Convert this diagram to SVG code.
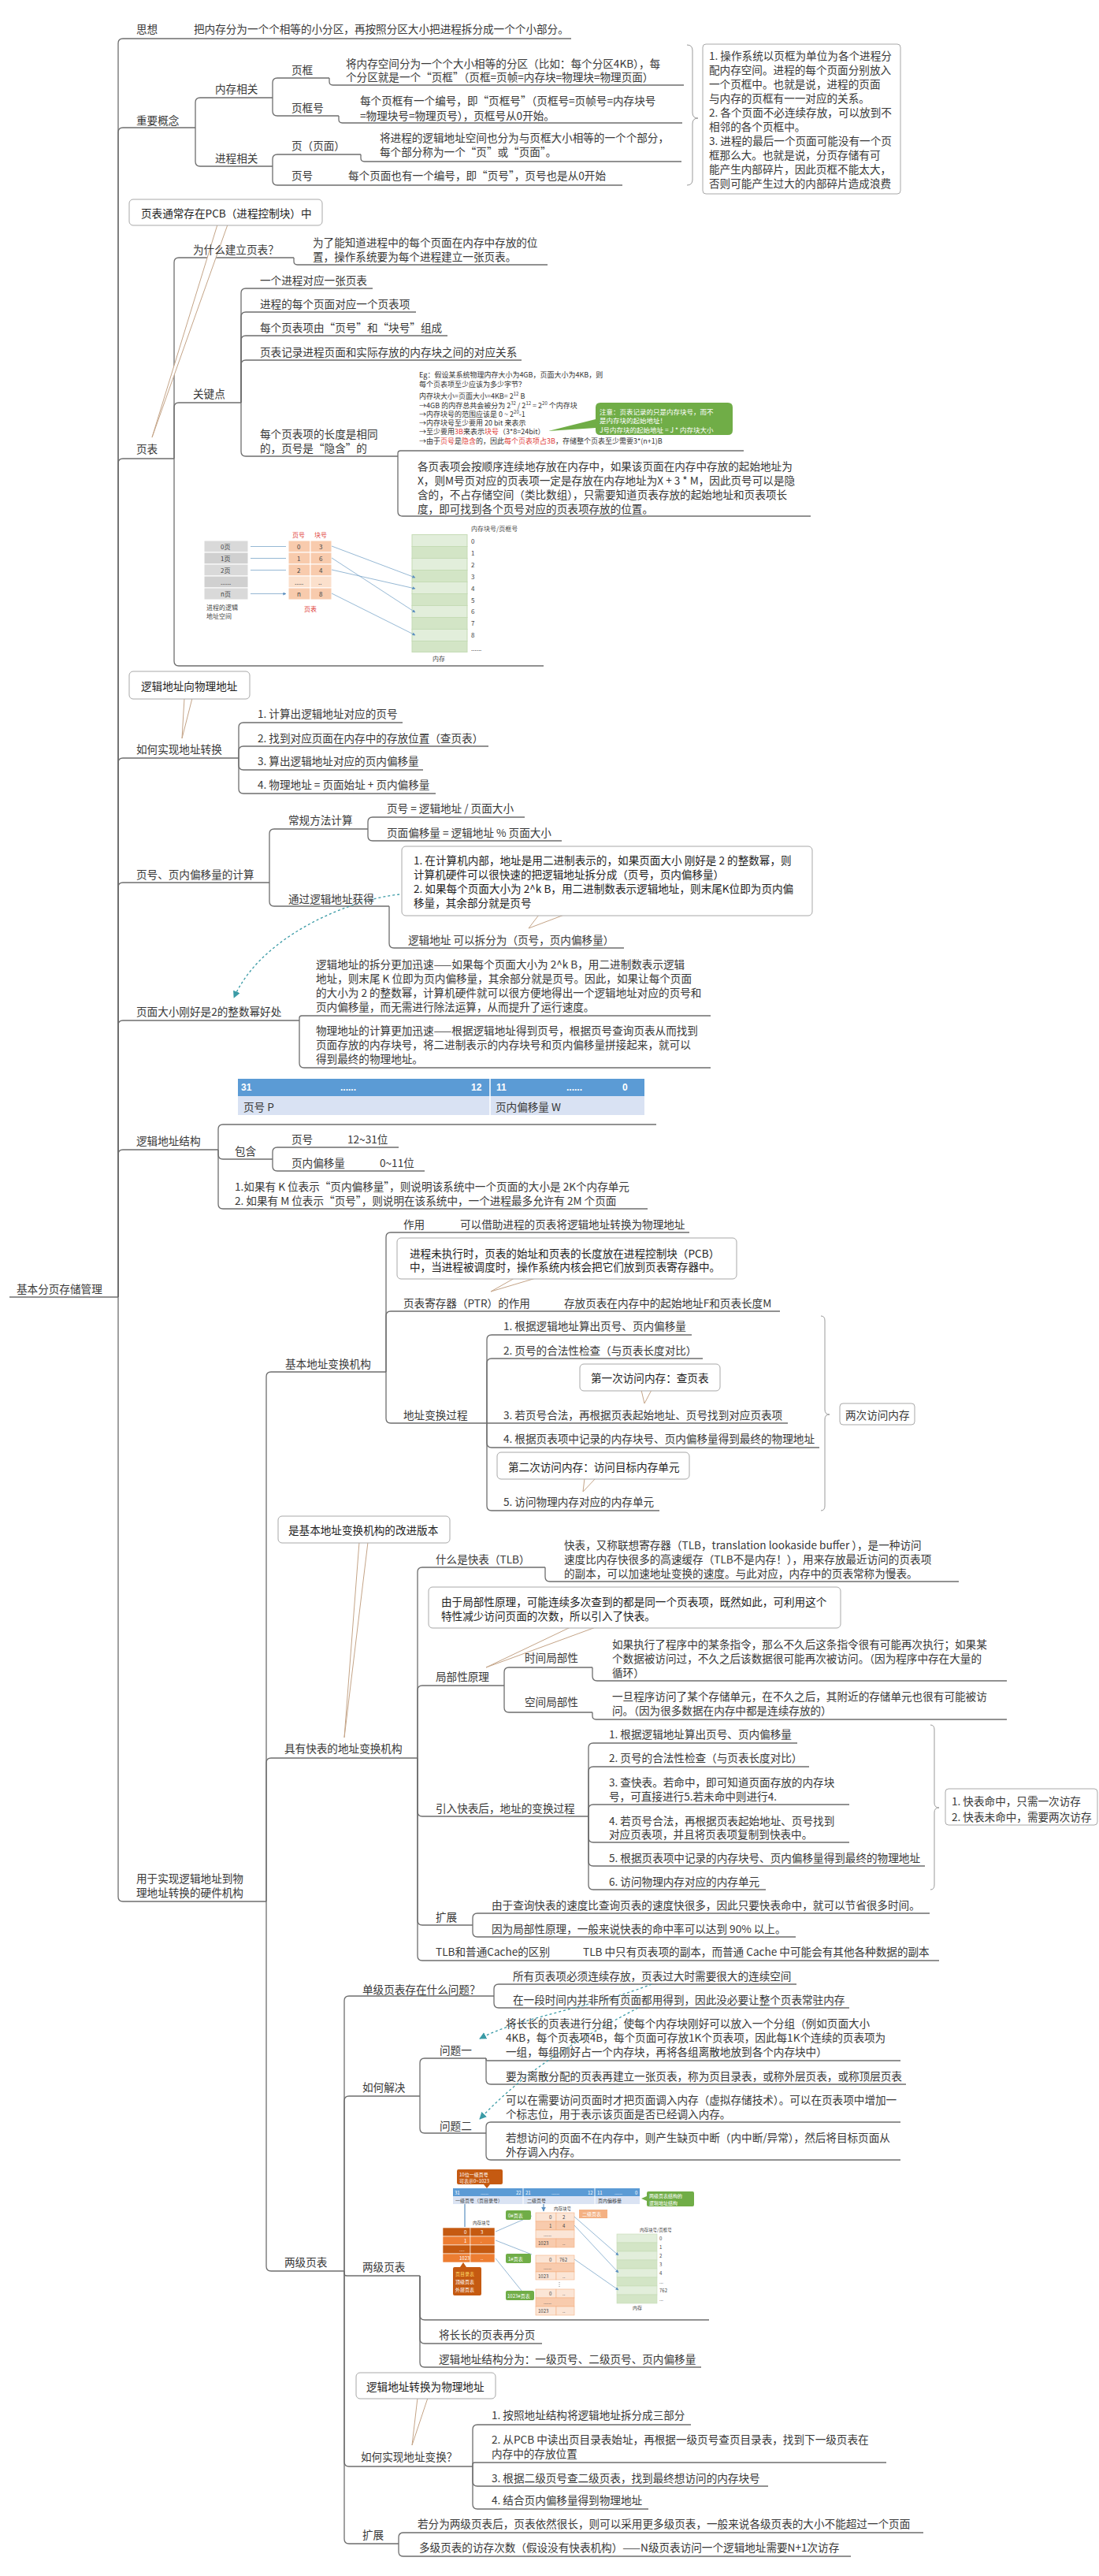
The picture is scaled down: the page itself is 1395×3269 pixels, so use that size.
<svg xmlns="http://www.w3.org/2000/svg" width="1395" height="3269" viewBox="0 0 1395 3269">
<defs>
<style>
.t{font-family:"Noto Sans CJK SC","Liberation Sans",sans-serif;font-size:13.6px;fill:#383838;dominant-baseline:central}
.tb{font-family:"Noto Sans CJK SC","Liberation Sans",sans-serif;font-size:13.6px;fill:#1e1e1e;dominant-baseline:central}
.s{font-family:"Noto Sans CJK SC","Liberation Sans",sans-serif;font-size:8px;fill:#444;dominant-baseline:central}
.e{font-family:"Noto Sans CJK SC","Liberation Serif",serif;font-size:9px;fill:#333;dominant-baseline:central}
.w{font-family:"Noto Sans CJK SC","Liberation Sans",sans-serif;font-size:6px;fill:#fff;dominant-baseline:central}
.d{font-family:"Noto Sans CJK SC","Liberation Sans",sans-serif;font-size:6px;fill:#444;dominant-baseline:central}
.r{fill:#e0413b}
.l{fill:none;stroke:#6e6e6e;stroke-width:1.3}
.cb{fill:#fff;stroke:#a8a8a8;stroke-width:1}
.ct{fill:#fff;stroke:#c4a487;stroke-width:1}
.dash{fill:none;stroke:#3b9ba6;stroke-width:1.3;stroke-dasharray:3 3}
.br{fill:none;stroke:#9a9a9a;stroke-width:1}
.ar{fill:none;stroke:#7ba6c9;stroke-width:0.8}
</style>
<marker id="ah" viewBox="0 0 10 10" refX="9" refY="5" markerWidth="7" markerHeight="7" orient="auto"><path d="M0,0 L10,5 L0,10 z" fill="#3b9ba6"/></marker>
<marker id="sa" viewBox="0 0 10 10" refX="9" refY="5" markerWidth="5" markerHeight="5" orient="auto"><path d="M0,0 L10,5 L0,10 z" fill="#5b8fc0"/></marker>
</defs>
<rect width="1395" height="3269" fill="#fff"/>

<g id="connectors">
<path class="l" d="M12,1646H150"/>
<path class="l" d="M150,1646V55Q150,49 156,49H725"/>
<path class="l" d="M150,1646V168Q150,162 156,162H248"/>
<path class="l" d="M150,1646V588Q150,582 156,582H221"/>
<path class="l" d="M150,1646V968Q150,962 156,962H303"/>
<path class="l" d="M150,1646V1126Q150,1120 156,1120H342"/>
<path class="l" d="M150,1646V1301Q150,1295 156,1295H380"/>
<path class="l" d="M150,1646V1465Q150,1459 156,1459H277"/>
<path class="l" d="M150,1646V2407Q150,2413 156,2413H338"/>
<path class="l" d="M248,162V130Q248,124 254,124H346"/>
<path class="l" d="M248,162V205Q248,211 254,211H346"/>
<path class="l" d="M346,124V105Q346,99 352,99H418"/>
<path class="l" d="M346,124V141Q346,147 352,147H430"/>
<path class="l" d="M418,99V103.5Q418,108 422.5,108H868"/>
<path class="l" d="M430,147V151.5Q430,156 434.5,156H866"/>
<path class="l" d="M346,211V202Q346,196 352,196H458"/>
<path class="l" d="M346,211V229Q346,235 352,235H790"/>
<path class="l" d="M458,196V200.5Q458,205 462.5,205H865"/>
<path class="br" d="M872,57Q879,57 879,64V143Q879,150 886,150Q879,150 879,157V228Q879,235 872,235"/>
<path class="l" d="M221,582V333Q221,327 227,327H373"/>
<path class="l" d="M221,582V517Q221,511 227,511H306"/>
<path class="l" d="M221,582V839Q221,845 227,845H690"/>
<path class="l" d="M373,327V331.5Q373,336 377.5,336H695"/>
<path class="l" d="M306,511V372Q306,366 312,366H473"/>
<path class="l" d="M306,511V402Q306,396 312,396H528"/>
<path class="l" d="M306,511V432Q306,426 312,426H568"/>
<path class="l" d="M306,511V463Q306,457 312,457H662"/>
<path class="l" d="M306,511V573Q306,579 312,579H505"/>
<path class="l" d="M505,579V575.5Q505,572 508.5,572H944"/>
<path class="l" d="M505,579V649Q505,655 511,655H1029"/>
<path class="l" d="M303,962V923Q303,917 309,917H511"/>
<path class="l" d="M303,962V953Q303,947 309,947H620"/>
<path class="l" d="M303,962V971Q303,977 309,977H537"/>
<path class="l" d="M303,962V1001Q303,1007 309,1007H553"/>
<path class="l" d="M342,1120V1058Q342,1052 348,1052H467"/>
<path class="l" d="M342,1120V1144Q342,1150 348,1150H494"/>
<path class="l" d="M467,1052V1043Q467,1037 473,1037H666"/>
<path class="l" d="M467,1052V1061Q467,1067 473,1067H713"/>
<path class="l" d="M494,1150V1197Q494,1203 500,1203H792"/>
<path class="l" d="M380,1295V1292Q380,1289 383,1289H902"/>
<path class="l" d="M380,1295V1349Q380,1355 386,1355H902"/>
<path class="l" d="M277,1459V1433Q277,1427 283,1427H833"/>
<path class="l" d="M277,1459V1465Q277,1471 283,1471H346"/>
<path class="l" d="M277,1459V1528Q277,1534 283,1534H822"/>
<path class="l" d="M346,1471V1462Q346,1456 352,1456H506"/>
<path class="l" d="M346,1471V1480Q346,1486 352,1486H539"/>
<path class="l" d="M338,2413V1747Q338,1741 344,1741H490"/>
<path class="l" d="M338,2413V2237Q338,2231 344,2231H530"/>
<path class="l" d="M338,2413V2876Q338,2882 344,2882H437"/>
<path class="l" d="M490,1741V1570Q490,1564 496,1564H875"/>
<path class="l" d="M490,1741V1670Q490,1664 496,1664H990"/>
<path class="l" d="M490,1741V1800Q490,1806 496,1806H618"/>
<path class="l" d="M618,1806V1700Q618,1694 624,1694H878"/>
<path class="l" d="M618,1806V1730Q618,1724 624,1724H892"/>
<path class="l" d="M618,1806H1000"/>
<path class="l" d="M618,1806V1831Q618,1837 624,1837H1040"/>
<path class="l" d="M618,1806V1911Q618,1917 624,1917H837"/>
<path class="br" d="M1042,1670Q1047,1670 1047,1676V1789Q1047,1795 1053,1795Q1047,1795 1047,1801V1911Q1047,1917 1042,1917"/>
<path class="l" d="M530,2231V1995Q530,1989 536,1989H692"/>
<path class="l" d="M530,2231V2145Q530,2139 536,2139H640"/>
<path class="l" d="M530,2231V2299Q530,2305 536,2305H747"/>
<path class="l" d="M530,2231V2437Q530,2443 536,2443H600"/>
<path class="l" d="M530,2231V2482Q530,2488 536,2488H1192"/>
<path class="l" d="M692,1989V2001Q692,2007 698,2007H1217"/>
<path class="l" d="M640,2139V2122Q640,2116 646,2116H752"/>
<path class="l" d="M640,2139V2167Q640,2173 646,2173H752"/>
<path class="l" d="M752,2116V2127Q752,2133 758,2133H1278"/>
<path class="l" d="M752,2173V2177.5Q752,2182 756.5,2182H1278"/>
<path class="l" d="M747,2305V2218Q747,2212 753,2212H1012"/>
<path class="l" d="M747,2305V2248Q747,2242 753,2242H1027"/>
<path class="l" d="M747,2305V2296Q747,2290 753,2290H1078"/>
<path class="l" d="M747,2305V2332Q747,2338 753,2338H1078"/>
<path class="l" d="M747,2305V2362Q747,2368 753,2368H1174"/>
<path class="l" d="M747,2305V2392Q747,2398 753,2398H972"/>
<path class="br" d="M1181,2189Q1186,2189 1186,2195V2288Q1186,2294 1192,2294Q1186,2294 1186,2300V2392Q1186,2398 1181,2398"/>
<path class="l" d="M600,2443V2434Q600,2428 606,2428H1180"/>
<path class="l" d="M600,2443V2452Q600,2458 606,2458H1010"/>
<path class="l" d="M437,2882V2539Q437,2533 443,2533H627"/>
<path class="l" d="M437,2882V2666Q437,2660 443,2660H533"/>
<path class="l" d="M437,2882V2885Q437,2888 440,2888H533"/>
<path class="l" d="M437,2882V3124Q437,3130 443,3130H600"/>
<path class="l" d="M437,2882V3222Q437,3228 443,3228H506"/>
<path class="l" d="M627,2533V2524Q627,2518 633,2518H1011"/>
<path class="l" d="M627,2533V2542Q627,2548 633,2548H1078"/>
<path class="l" d="M533,2660V2618Q533,2612 539,2612H617"/>
<path class="l" d="M533,2660V2701Q533,2707 539,2707H617"/>
<path class="l" d="M617,2612V2613.5Q617,2615 618.5,2615H1143"/>
<path class="l" d="M617,2612V2639Q617,2645 623,2645H1150"/>
<path class="l" d="M617,2707V2699Q617,2693 623,2693H1143"/>
<path class="l" d="M617,2707V2735Q617,2741 623,2741H1143"/>
<path class="l" d="M533,2888V2938Q533,2944 539,2944H900"/>
<path class="l" d="M533,2888V2968Q533,2974 539,2974H688"/>
<path class="l" d="M533,2888V2998Q533,3004 539,3004H890"/>
<path class="l" d="M600,3130V3083Q600,3077 606,3077H877"/>
<path class="l" d="M600,3130V3127.5Q600,3125 602.5,3125H1125"/>
<path class="l" d="M600,3130V3149Q600,3155 606,3155H975"/>
<path class="l" d="M600,3130V3178Q600,3184 606,3184H823"/>
<path class="l" d="M506,3228V3220Q506,3214 512,3214H1172"/>
<path class="l" d="M506,3228V3238Q506,3244 512,3244H1080"/>
<path class="dash" marker-end="url(#ah)" d="M507,1135C440,1142 330,1190 297,1266"/>
<path class="dash" marker-end="url(#ah)" d="M827,2518C760,2545 660,2560 609,2587"/>
<path class="dash" marker-end="url(#ah)" d="M810,2548C730,2590 670,2625 609,2689"/>
</g>

<g id="root"><text class="t" x="21" y="1635">基本分页存储管理</text></g>

<g id="n-sixiang">
<text class="t" x="173" y="36">思想</text>
<text class="t" x="246" y="36">把内存分为一个个相等的小分区，再按照分区大小把进程拆分成一个个小部分。</text>
</g>

<g id="n-zhongyao">
<text class="t" x="173" y="152">重要概念</text>
<text class="t" x="273" y="112">内存相关</text>
<text class="t" x="370" y="88">页框</text>
<text class="t" x="439" y="80">将内存空间分为一个个大小相等的分区（比如：每个分区4KB），每</text>
<text class="t" x="439" y="97">个分区就是一个“页框”（页框=页帧=内存块=物理块=物理页面）</text>
<text class="t" x="370" y="136">页框号</text>
<text class="t" x="457" y="127">每个页框有一个编号，即“页框号”（页框号=页帧号=内存块号</text>
<text class="t" x="457" y="146">=物理块号=物理页号），页框号从0开始。</text>
<text class="t" x="273" y="200">进程相关</text>
<text class="t" x="370" y="184">页（页面）</text>
<text class="t" x="482" y="174">将进程的逻辑地址空间也分为与页框大小相等的一个个部分，</text>
<text class="t" x="482" y="192">每个部分称为一个“页”或“页面”。</text>
<text class="t" x="370" y="222">页号</text>
<text class="t" x="442" y="222">每个页面也有一个编号，即“页号”，页号也是从0开始</text>
</g>

<g id="n-summary1">
<rect class="cb" x="892" y="56" width="251" height="190" rx="4"/>
<text class="t" x="900" y="70">1. 操作系统以页框为单位为各个进程分</text>
<text class="t" x="900" y="88">配内存空间。进程的每个页面分别放入</text>
<text class="t" x="900" y="106">一个页框中。也就是说，进程的页面</text>
<text class="t" x="900" y="124">与内存的页框有一一对应的关系。</text>
<text class="t" x="900" y="142">2. 各个页面不必连续存放，可以放到不</text>
<text class="t" x="900" y="160">相邻的各个页框中。</text>
<text class="t" x="900" y="178">3. 进程的最后一个页面可能没有一个页</text>
<text class="t" x="900" y="196">框那么大。也就是说，分页存储有可</text>
<text class="t" x="900" y="214">能产生内部碎片，因此页框不能太大，</text>
<text class="t" x="900" y="232">否则可能产生过大的内部碎片造成浪费</text>
</g>

<g id="n-yebiao">
<path class="ct" d="M276,285L193,555L289,285"/>
<rect class="cb" x="164" y="253" width="245" height="33" rx="5"/>
<text class="tb" x="179" y="270">页表通常存在PCB（进程控制块）中</text>
<text class="t" x="173" y="569">页表</text>
<text class="t" x="245" y="316">为什么建立页表？</text>
<text class="t" x="397" y="307">为了能知道进程中的每个页面在内存中存放的位</text>
<text class="t" x="397" y="325">置，操作系统要为每个进程建立一张页表。</text>
<text class="t" x="245" y="499">关键点</text>
<text class="t" x="330" y="355">一个进程对应一张页表</text>
<text class="t" x="330" y="385">进程的每个页面对应一个页表项</text>
<text class="t" x="330" y="415">每个页表项由“页号”和“块号”组成</text>
<text class="t" x="330" y="446">页表记录进程页面和实际存放的内存块之间的对应关系</text>
<text class="t" x="330" y="550">每个页表项的长度是相同</text>
<text class="t" x="330" y="568">的，页号是“隐含”的</text>
<text class="t" x="530" y="591">各页表项会按顺序连续地存放在内存中，如果该页面在内存中存放的起始地址为</text>
<text class="t" x="530" y="609">X，则M号页对应的页表项一定是存放在内存地址为X + 3 * M，因此页号可以是隐</text>
<text class="t" x="530" y="627">含的，不占存储空间（类比数组），只需要知道页表存放的起始地址和页表项长</text>
<text class="t" x="530" y="645">度，即可找到各个页号对应的页表项存放的位置。</text>
</g>

<g id="img-eg">
<text class="e" x="532" y="475">Eg：假设某系统物理内存大小为4GB，页面大小为4KB，则</text>
<text class="e" x="532" y="487">每个页表项至少应该为多少字节？</text>
<text class="e" x="532" y="502">内存块大小=页面大小=4KB= 2<tspan font-size="6" dy="-3">12</tspan><tspan dy="3"> B</tspan></text>
<text class="e" x="532" y="514">→4GB 的内存总共会被分为 2<tspan font-size="6" dy="-3">32</tspan><tspan dy="3"> / 2</tspan><tspan font-size="6" dy="-3">12</tspan><tspan dy="3"> = 2</tspan><tspan font-size="6" dy="-3">20</tspan><tspan dy="3"> 个内存块</tspan></text>
<text class="e" x="532" y="525">→内存块号的范围应该是 0 ~ 2<tspan font-size="6" dy="-3">20</tspan><tspan dy="3">-1</tspan></text>
<text class="e" x="532" y="536">→内存块号至少要用 20 bit 来表示</text>
<text class="e" x="532" y="547">→至少要用<tspan class="r">3B</tspan>来表示<tspan class="r">块号</tspan>（3*8=24bit）</text>
<text class="e" x="532" y="559">→由于<tspan class="r">页号</tspan>是<tspan class="r">隐含</tspan>的，因此<tspan class="r">每个页表项占3B</tspan>，存储整个页表至少需要3*(n+1)B</text>
<path d="M762,511H924Q930,511 930,517V546Q930,552 924,552H762Q756,552 756,546V543L696,547L756,532V517Q756,511 762,511Z" fill="#70ad47"/>
<text class="e" x="761" y="522" style="fill:#fff;font-size:8.5px">注意：页表记录的只是内存块号，而不</text>
<text class="e" x="761" y="533" style="fill:#fff;font-size:8.5px">是内存块的起始地址！</text>
<text class="e" x="761" y="545" style="fill:#fff;font-size:8.5px">J号内存块的起始地址 = J * 内存块大小</text>
</g>

<g id="img-pagetable">
<g fill="#d9d9d9" stroke="#fff" stroke-width="1">
<rect x="259" y="686" width="56" height="15"/><rect x="259" y="701" width="56" height="15" fill="#d0d0d0"/><rect x="259" y="716" width="56" height="15"/><rect x="259" y="731" width="56" height="15" fill="#d0d0d0"/><rect x="259" y="746" width="56" height="15"/>
</g>
<text class="s" x="280" y="693.5">0页</text><text class="s" x="280" y="708.5">1页</text><text class="s" x="280" y="723.5">2页</text><text class="s" x="280" y="738.5">......</text><text class="s" x="280" y="753.5">n页</text>
<text class="s" x="262" y="770">进程的逻辑</text><text class="s" x="262" y="781">地址空间</text>
<path class="ar" marker-end="url(#sa)" d="M318,693.5H363M318,708.5H363M318,723.5H363M318,753.5H363"/>
<text class="s r" x="371" y="678">页号</text><text class="s r" x="399" y="678">块号</text>
<g fill="#f8cbad" stroke="#fff" stroke-width="1">
<rect x="366" y="686" width="28" height="15"/><rect x="394" y="686" width="27" height="15"/>
<rect x="366" y="701" width="28" height="15"/><rect x="394" y="701" width="27" height="15"/>
<rect x="366" y="716" width="28" height="15"/><rect x="394" y="716" width="27" height="15"/>
<rect x="366" y="731" width="28" height="15" fill="#fbe0cc"/><rect x="394" y="731" width="27" height="15" fill="#fbe0cc"/>
<rect x="366" y="746" width="28" height="15"/><rect x="394" y="746" width="27" height="15"/>
</g>
<text class="s" x="377" y="693.5">0</text><text class="s" x="405" y="693.5">3</text>
<text class="s" x="377" y="708.5">1</text><text class="s" x="405" y="708.5">6</text>
<text class="s" x="377" y="723.5">2</text><text class="s" x="405" y="723.5">4</text>
<text class="s" x="374" y="738.5">.....</text><text class="s" x="404" y="738.5">..</text>
<text class="s" x="377" y="753.5">n</text><text class="s" x="405" y="753.5">8</text>
<text class="s r" x="386" y="772">页表</text>
<text class="s" x="598" y="670">内存块号/页框号</text>
<g stroke="#c5dbb5" stroke-width="1">
<rect x="523" y="678.5" width="70" height="15" fill="#e2eedb"/><rect x="523" y="693.5" width="70" height="15" fill="#d3e5c6"/>
<rect x="523" y="708.5" width="70" height="15" fill="#e2eedb"/><rect x="523" y="723.5" width="70" height="15" fill="#d3e5c6"/>
<rect x="523" y="738.5" width="70" height="15" fill="#e2eedb"/><rect x="523" y="753.5" width="70" height="15" fill="#d3e5c6"/>
<rect x="523" y="768.5" width="70" height="15" fill="#e2eedb"/><rect x="523" y="783.5" width="70" height="15" fill="#d3e5c6"/>
<rect x="523" y="798.5" width="70" height="15" fill="#e2eedb"/><rect x="523" y="813.5" width="70" height="14" fill="#d3e5c6"/>
</g>
<text class="s" x="598" y="686">0</text><text class="s" x="598" y="701">1</text><text class="s" x="598" y="716">2</text><text class="s" x="598" y="731">3</text><text class="s" x="598" y="746">4</text><text class="s" x="598" y="761">5</text><text class="s" x="598" y="775">6</text><text class="s" x="598" y="790">7</text><text class="s" x="598" y="805">8</text><text class="s" x="598" y="822">......</text>
<text class="s" x="549" y="835">内存</text>
<path class="ar" marker-end="url(#sa)" d="M421,693L527,733"/>
<path class="ar" marker-end="url(#sa)" d="M421,708L527,777"/>
<path class="ar" marker-end="url(#sa)" d="M421,723L527,747"/>
<path class="ar" marker-end="url(#sa)" d="M421,753L527,806"/>
</g>

<g id="n-dizhi">
<path class="ct" d="M234,886L231,937L244,886"/>
<rect class="cb" x="164" y="852" width="153" height="35" rx="5"/>
<text class="tb" x="179" y="870">逻辑地址向物理地址</text>
<text class="t" x="173" y="950">如何实现地址转换</text>
<text class="t" x="327" y="905">1. 计算出逻辑地址对应的页号</text>
<text class="t" x="327" y="936">2. 找到对应页面在内存中的存放位置（查页表）</text>
<text class="t" x="327" y="965">3. 算出逻辑地址对应的页内偏移量</text>
<text class="t" x="327" y="995">4. 物理地址 = 页面始址 + 页内偏移量</text>
</g>

<g id="n-jisuan">
<text class="t" x="173" y="1109">页号、页内偏移量的计算</text>
<text class="t" x="366" y="1040">常规方法计算</text>
<text class="t" x="491" y="1025">页号 = 逻辑地址 / 页面大小</text>
<text class="t" x="491" y="1056">页面偏移量 = 逻辑地址 % 页面大小</text>
<text class="t" x="366" y="1140">通过逻辑地址获得</text>
<path class="ct" d="M684,1161L671,1178L716,1161"/>
<rect class="cb" x="510" y="1074" width="521" height="88" rx="5"/>
<text class="tb" x="525" y="1091">1. 在计算机内部，地址是用二进制表示的，如果页面大小 刚好是 2 的整数幂，则</text>
<text class="tb" x="525" y="1109">计算机硬件可以很快速的把逻辑地址拆分成（页号，页内偏移量）</text>
<text class="tb" x="525" y="1127">2. 如果每个页面大小为 2^k B，用二进制数表示逻辑地址，则末尾K位即为页内偏</text>
<text class="tb" x="525" y="1145">移量，其余部分就是页号</text>
<text class="t" x="518" y="1192">逻辑地址 可以拆分为（页号，页内偏移量）</text>
</g>

<g id="n-haochu">
<text class="t" x="173" y="1283">页面大小刚好是2的整数幂好处</text>
<text class="t" x="401" y="1223">逻辑地址的拆分更加迅速——如果每个页面大小为 2^k B，用二进制数表示逻辑</text>
<text class="t" x="401" y="1241">地址，则末尾 K 位即为页内偏移量，其余部分就是页号。因此，如果让每个页面</text>
<text class="t" x="401" y="1259">的大小为 2 的整数幂，计算机硬件就可以很方便地得出一个逻辑地址对应的页号和</text>
<text class="t" x="401" y="1277">页内偏移量，而无需进行除法运算，从而提升了运行速度。</text>
<text class="t" x="401" y="1307">物理地址的计算更加迅速——根据逻辑地址得到页号，根据页号查询页表从而找到</text>
<text class="t" x="401" y="1325">页面存放的内存块号，将二进制表示的内存块号和页内偏移量拼接起来，就可以</text>
<text class="t" x="401" y="1343">得到最终的物理地址。</text>
</g>

<g id="n-jiegou">
<rect x="302" y="1369" width="516" height="22" fill="#5b9bd5"/>
<rect x="302" y="1391" width="516" height="24" fill="#d9e2f3"/>
<path d="M622,1369V1415" stroke="#fff" stroke-width="1.5"/>
<g style="font-family:'Liberation Sans',sans-serif;font-size:12px;font-weight:bold;fill:#fff;dominant-baseline:central">
<text x="306" y="1380">31</text><text x="432" y="1380">......</text><text x="598" y="1380">12</text>
<text x="630" y="1380">11</text><text x="719" y="1380">......</text><text x="790" y="1380">0</text>
</g>
<text class="t" x="309" y="1404">页号 P</text>
<text class="t" x="629" y="1404">页内偏移量 W</text>
<text class="t" x="173" y="1447">逻辑地址结构</text>
<text class="t" x="298" y="1460">包含</text>
<text class="t" x="370" y="1445">页号</text>
<text class="t" x="441" y="1445">12~31位</text>
<text class="t" x="370" y="1475">页内偏移量</text>
<text class="t" x="482" y="1475">0~11位</text>
<text class="t" x="298" y="1505">1.如果有 K 位表示“页内偏移量”，则说明该系统中一个页面的大小是 2K个内存单元</text>
<text class="t" x="298" y="1523">2. 如果有 M 位表示“页号”，则说明在该系统中，一个进程最多允许有 2M 个页面</text>
</g>

<g id="n-yingjian">
<text class="t" x="173" y="2383">用于实现逻辑地址到物</text>
<text class="t" x="173" y="2401">理地址转换的硬件机构</text>
</g>

<g id="n-jiben">
<text class="t" x="362" y="1730">基本地址变换机构</text>
<text class="t" x="512" y="1553">作用</text>
<text class="t" x="584" y="1553">可以借助进程的页表将逻辑地址转换为物理地址</text>
<path class="ct" d="M653,1622L623,1639L680,1622"/>
<rect class="cb" x="504" y="1571" width="431" height="52" rx="5"/>
<text class="tb" x="520" y="1590">进程未执行时，页表的始址和页表的长度放在进程控制块（PCB）</text>
<text class="tb" x="520" y="1607">中，当进程被调度时，操作系统内核会把它们放到页表寄存器中。</text>
<text class="t" x="512" y="1653">页表寄存器（PTR）的作用</text>
<text class="t" x="716" y="1653">存放页表在内存中的起始地址F和页表长度M</text>
<text class="t" x="512" y="1795">地址变换过程</text>
<text class="t" x="639" y="1682">1. 根据逻辑地址算出页号、页内偏移量</text>
<text class="t" x="639" y="1713">2. 页号的合法性检查（与页表长度对比）</text>
<path class="ct" d="M814,1764L818,1781L827,1764"/>
<rect class="cb" x="736" y="1731" width="178" height="34" rx="5"/>
<text class="tb" x="750" y="1748">第一次访问内存：查页表</text>
<text class="t" x="639" y="1795">3. 若页号合法，再根据页表起始地址、页号找到对应页表项</text>
<text class="t" x="639" y="1825">4. 根据页表项中记录的内存块号、页内偏移量得到最终的物理地址</text>
<path class="ct" d="M742,1876L740,1893L756,1876"/>
<rect class="cb" x="631" y="1843" width="244" height="34" rx="5"/>
<text class="tb" x="645" y="1861">第二次访问内存：访问目标内存单元</text>
<text class="t" x="639" y="1905">5. 访问物理内存对应的内存单元</text>
<rect class="cb" x="1066" y="1781" width="95" height="27" rx="4"/>
<text class="t" x="1073" y="1795">两次访问内存</text>
</g>

<g id="n-kuaibiao">
<path class="ct" d="M456,1957L437,2205L467,1957"/>
<rect class="cb" x="353" y="1924" width="218" height="34" rx="5"/>
<text class="tb" x="366" y="1941">是基本地址变换机构的改进版本</text>
<text class="t" x="361" y="2218">具有快表的地址变换机构</text>
<text class="t" x="553" y="1978">什么是快表（TLB）</text>
<text class="t" x="716" y="1960">快表，又称联想寄存器（TLB，translation lookaside buffer ），是一种访问</text>
<text class="t" x="716" y="1978">速度比内存快很多的高速缓存（TLB不是内存！），用来存放最近访问的页表项</text>
<text class="t" x="716" y="1996">的副本，可以加速地址变换的速度。与此对应，内存中的页表常称为慢表。</text>
<path class="ct" d="M724,2065L617,2116L756,2065"/>
<rect class="cb" x="544" y="2014" width="523" height="52" rx="5"/>
<text class="tb" x="560" y="2032">由于局部性原理，可能连续多次查到的都是同一个页表项，既然如此，可利用这个</text>
<text class="tb" x="560" y="2050">特性减少访问页面的次数，所以引入了快表。</text>
<text class="t" x="553" y="2127">局部性原理</text>
<text class="t" x="666" y="2103">时间局部性</text>
<text class="t" x="777" y="2086">如果执行了程序中的某条指令，那么不久后这条指令很有可能再次执行；如果某</text>
<text class="t" x="777" y="2104">个数据被访问过，不久之后该数据很可能再次被访问。（因为程序中存在大量的</text>
<text class="t" x="777" y="2122">循环）</text>
<text class="t" x="666" y="2159">空间局部性</text>
<text class="t" x="777" y="2152">一旦程序访问了某个存储单元，在不久之后，其附近的存储单元也很有可能被访</text>
<text class="t" x="777" y="2170">问。（因为很多数据在内存中都是连续存放的）</text>
<text class="t" x="553" y="2294">引入快表后，地址的变换过程</text>
<text class="t" x="773" y="2200">1. 根据逻辑地址算出页号、页内偏移量</text>
<text class="t" x="773" y="2230">2. 页号的合法性检查（与页表长度对比）</text>
<text class="t" x="773" y="2261">3. 查快表。若命中，即可知道页面存放的内存块</text>
<text class="t" x="773" y="2279">号，可直接进行5.若未命中则进行4.</text>
<text class="t" x="773" y="2310">4. 若页号合法，再根据页表起始地址、页号找到</text>
<text class="t" x="773" y="2327">对应页表项，并且将页表项复制到快表中。</text>
<text class="t" x="773" y="2357">5. 根据页表项中记录的内存块号、页内偏移量得到最终的物理地址</text>
<text class="t" x="773" y="2387">6. 访问物理内存对应的内存单元</text>
<rect class="cb" x="1200" y="2270" width="193" height="46" rx="4"/>
<text class="t" x="1208" y="2285">1. 快表命中，只需一次访存</text>
<text class="t" x="1208" y="2305">2. 快表未命中，需要两次访存</text>
<text class="t" x="553" y="2432">扩展</text>
<text class="t" x="624" y="2417">由于查询快表的速度比查询页表的速度快很多，因此只要快表命中，就可以节省很多时间。</text>
<text class="t" x="624" y="2447">因为局部性原理，一般来说快表的命中率可以达到 90% 以上。</text>
<text class="t" x="553" y="2476">TLB和普通Cache的区别</text>
<text class="t" x="740" y="2476">TLB 中只有页表项的副本，而普通 Cache 中可能会有其他各种数据的副本</text>
</g>

<g id="n-liangji">
<text class="t" x="361" y="2870">两级页表</text>
<text class="t" x="460" y="2524">单级页表存在什么问题？</text>
<text class="t" x="651" y="2507">所有页表项必须连续存放，页表过大时需要很大的连续空间</text>
<text class="t" x="651" y="2537">在一段时间内并非所有页面都用得到，因此没必要让整个页表常驻内存</text>
<text class="t" x="460" y="2648">如何解决</text>
<text class="t" x="558" y="2601">问题一</text>
<text class="t" x="642" y="2567">将长长的页表进行分组，使每个内存块刚好可以放入一个分组（例如页面大小</text>
<text class="t" x="642" y="2585">4KB，每个页表项4B，每个页面可存放1K个页表项，因此每1K个连续的页表项为</text>
<text class="t" x="642" y="2603">一组，每组刚好占一个内存块，再将各组离散地放到各个内存块中）</text>
<text class="t" x="642" y="2634">要为离散分配的页表再建立一张页表，称为页目录表，或称外层页表，或称顶层页表</text>
<text class="t" x="558" y="2697">问题二</text>
<text class="t" x="642" y="2664">可以在需要访问页面时才把页面调入内存（虚拟存储技术）。可以在页表项中增加一</text>
<text class="t" x="642" y="2682">个标志位，用于表示该页面是否已经调入内存。</text>
<text class="t" x="642" y="2712">若想访问的页面不在内存中，则产生缺页中断（内中断/异常），然后将目标页面从</text>
<text class="t" x="642" y="2730">外存调入内存。</text>
<text class="t" x="460" y="2876">两级页表</text>
<text class="t" x="557" y="2962">将长长的页表再分页</text>
<text class="t" x="557" y="2993">逻辑地址结构分为：一级页号、二级页号、页内偏移量</text>
<path class="ct" d="M530,3043L523,3103L543,3043"/>
<rect class="cb" x="452" y="3011" width="177" height="33" rx="5"/>
<text class="tb" x="465" y="3028">逻辑地址转换为物理地址</text>
<text class="t" x="458" y="3117">如何实现地址变换？</text>
<text class="t" x="624" y="3064">1. 按照地址结构将逻辑地址拆分成三部分</text>
<text class="t" x="624" y="3095">2. 从PCB 中读出页目录表始址，再根据一级页号查页目录表，找到下一级页表在</text>
<text class="t" x="624" y="3113">内存中的存放位置</text>
<text class="t" x="624" y="3144">3. 根据二级页号查二级页表，找到最终想访问的内存块号</text>
<text class="t" x="624" y="3172">4. 结合页内偏移量得到物理地址</text>
<text class="t" x="460" y="3216">扩展</text>
<text class="t" x="530" y="3202">若分为两级页表后，页表依然很长，则可以采用更多级页表，一般来说各级页表的大小不能超过一个页面</text>
<text class="t" x="532" y="3232">多级页表的访存次数（假设没有快表机构）——N级页表访问一个逻辑地址需要N+1次访存</text>
</g>

<g id="img-twolevel">
<path d="M582,2753H636Q638,2753 638,2755V2770Q638,2772 636,2772H622L618,2777L614,2772H582Q580,2772 580,2770V2755Q580,2753 582,2753Z" fill="#c55a11"/>
<text class="w" x="583" y="2759">10位一级页号</text>
<text class="w" x="583" y="2767">可表示0~1023</text>
<rect x="575" y="2777" width="237" height="10" fill="#5b9bd5"/>
<rect x="575" y="2787" width="237" height="10" fill="#dae3f3"/>
<path d="M664,2777V2797M755,2777V2797" stroke="#fff" stroke-width="1"/>
<text class="w" x="577" y="2782">31</text><text class="w" x="610" y="2782">......</text><text class="w" x="655" y="2782">22</text>
<text class="w" x="667" y="2782">21</text><text class="w" x="700" y="2782">......</text><text class="w" x="746" y="2782">12</text>
<text class="w" x="758" y="2782">11</text><text class="w" x="780" y="2782">......</text><text class="w" x="806" y="2782">0</text>
<text class="d" x="578" y="2792">一级页号（页目录号）</text><text class="d" x="669" y="2792">二级页号</text><text class="d" x="759" y="2792">页内偏移量</text>
<path d="M823,2781H879Q881,2781 881,2783V2798Q881,2800 879,2800H823Q821,2800 821,2798V2793L814,2790L821,2787V2783Q821,2781 823,2781Z" fill="#70ad47"/>
<text class="w" x="824" y="2786">两级页表结构的</text>
<text class="w" x="824" y="2795">逻辑地址结构</text>
<path d="M590,2797V2826M690,2797V2806" stroke="#5b8fc0" stroke-width="1.2" marker-end="url(#sa)"/>
<text class="d" x="600" y="2821" style="font-size:5.5px">内存块号</text>
<g stroke="#fff" stroke-width="0.6">
<rect x="562" y="2827" width="35" height="11" fill="#c55a11"/><rect x="597" y="2827" width="31" height="11" fill="#c55a11"/>
<rect x="562" y="2838" width="35" height="11" fill="#ed7d31"/><rect x="597" y="2838" width="31" height="11" fill="#ed7d31"/>
<rect x="562" y="2849" width="35" height="11" fill="#c55a11"/><rect x="597" y="2849" width="31" height="11" fill="#c55a11"/>
<rect x="562" y="2860" width="35" height="11" fill="#ed7d31"/><rect x="597" y="2860" width="31" height="11" fill="#ed7d31"/>
</g>
<text class="w" x="589" y="2832.5">0</text><text class="w" x="610" y="2832.5">3</text>
<text class="w" x="589" y="2843.5">1</text><text class="w" x="610" y="2843.5">.</text>
<text class="w" x="583" y="2854.5">....</text>
<text class="w" x="583" y="2865.5">1023</text><text class="w" x="610" y="2865.5">..</text>
<path d="M577,2877H609Q611,2877 611,2879V2911Q611,2913 609,2913H577Q575,2913 575,2911V2879Q575,2877 577,2877H584L588,2871L592,2877Z" fill="#c55a11"/>
<text class="w" x="578" y="2885" style="fill:#ffd966">页目录表</text>
<text class="w" x="578" y="2895">顶级页表</text>
<text class="w" x="578" y="2905">外层页表</text>
<path class="ar" d="M629,2832L675,2812M629,2843L675,2861M629,2866L662,2907"/>
<rect x="642" y="2805" width="32" height="12" rx="2" fill="#70ad47"/><text class="w" x="645" y="2811">0#页表</text>
<rect x="642" y="2860" width="32" height="12" rx="2" fill="#70ad47"/><text class="w" x="645" y="2866">1#页表</text>
<rect x="642" y="2907" width="36" height="12" rx="2" fill="#70ad47"/><text class="w" x="644" y="2913">1023#页表</text>
<text class="d" x="703" y="2803" style="font-size:5.5px">内存块号</text>
<rect x="735" y="2804" width="36" height="11" fill="#f4b183"/><text class="w" x="739" y="2809.5">二级页表</text>
<g stroke="#f4b183" stroke-width="0.6">
<rect x="680" y="2808" width="26" height="11" fill="#fbe5d6"/><rect x="706" y="2808" width="23" height="11" fill="#fbe5d6"/>
<rect x="680" y="2819" width="26" height="11" fill="#f8cbad"/><rect x="706" y="2819" width="23" height="11" fill="#f8cbad"/>
<rect x="680" y="2830" width="49" height="11" fill="#fbe5d6"/>
<rect x="680" y="2841" width="26" height="11" fill="#f8cbad"/><rect x="706" y="2841" width="23" height="11" fill="#f8cbad"/>
<rect x="680" y="2862" width="26" height="10" fill="#fbe5d6"/><rect x="706" y="2862" width="23" height="10" fill="#fbe5d6"/>
<rect x="680" y="2872" width="49" height="11" fill="#f8cbad"/>
<rect x="680" y="2883" width="26" height="10" fill="#fbe5d6"/><rect x="706" y="2883" width="23" height="10" fill="#fbe5d6"/>
<rect x="680" y="2905" width="26" height="11" fill="#fbe5d6"/><rect x="706" y="2905" width="23" height="11" fill="#fbe5d6"/>
<rect x="680" y="2916" width="49" height="11" fill="#f8cbad"/>
<rect x="680" y="2927" width="26" height="11" fill="#fbe5d6"/><rect x="706" y="2927" width="23" height="11" fill="#fbe5d6"/>
</g>
<text class="d" x="697" y="2813.5">0</text><text class="d" x="714" y="2813.5">2</text>
<text class="d" x="697" y="2824.5">1</text><text class="d" x="714" y="2824.5">4</text>
<text class="d" x="690" y="2835.5">......</text>
<text class="d" x="683" y="2846.5">1023</text><text class="d" x="714" y="2846.5">..</text>
<text class="d" x="697" y="2867">0</text><text class="d" x="710" y="2867">762</text>
<text class="d" x="690" y="2877.5">......</text>
<text class="d" x="683" y="2888">1023</text><text class="d" x="714" y="2888">..</text>
<text class="d" x="697" y="2910.5">0</text><text class="d" x="714" y="2910.5">..</text>
<text class="d" x="690" y="2921.5">......</text>
<text class="d" x="683" y="2932.5">1023</text><text class="d" x="714" y="2932.5">..</text>
<path d="M710,2896V2902" stroke="#666" stroke-width="0.8" stroke-dasharray="1 1.5"/>
<text class="d" x="812" y="2830" style="font-size:5.5px">内存块号/页框号</text>
<g stroke="#c5dbb5" stroke-width="0.6">
<rect x="783" y="2835" width="51" height="11" fill="#e2eedb"/><rect x="783" y="2846" width="51" height="11" fill="#d3e5c6"/>
<rect x="783" y="2857" width="51" height="11" fill="#e2eedb"/><rect x="783" y="2868" width="51" height="11" fill="#d3e5c6"/>
<rect x="783" y="2879" width="51" height="11" fill="#e2eedb"/><rect x="783" y="2890" width="51" height="11" fill="#d3e5c6"/>
<rect x="783" y="2901" width="51" height="11" fill="#e2eedb"/><rect x="783" y="2912" width="51" height="11" fill="#d3e5c6"/>
</g>
<text class="d" x="837" y="2840">0</text><text class="d" x="837" y="2851">1</text><text class="d" x="837" y="2862">2</text><text class="d" x="837" y="2873">3</text><text class="d" x="837" y="2884">4</text><text class="d" x="837" y="2895">...</text><text class="d" x="837" y="2906">762</text><text class="d" x="837" y="2917">...</text>
<text class="d" x="803" y="2928">内存</text>
<path class="ar" marker-end="url(#sa)" d="M729,2813L785,2862"/>
<path class="ar" marker-end="url(#sa)" d="M729,2824L785,2884"/>
<path class="ar" marker-end="url(#sa)" d="M729,2867L785,2906"/>
</g>
</svg>
